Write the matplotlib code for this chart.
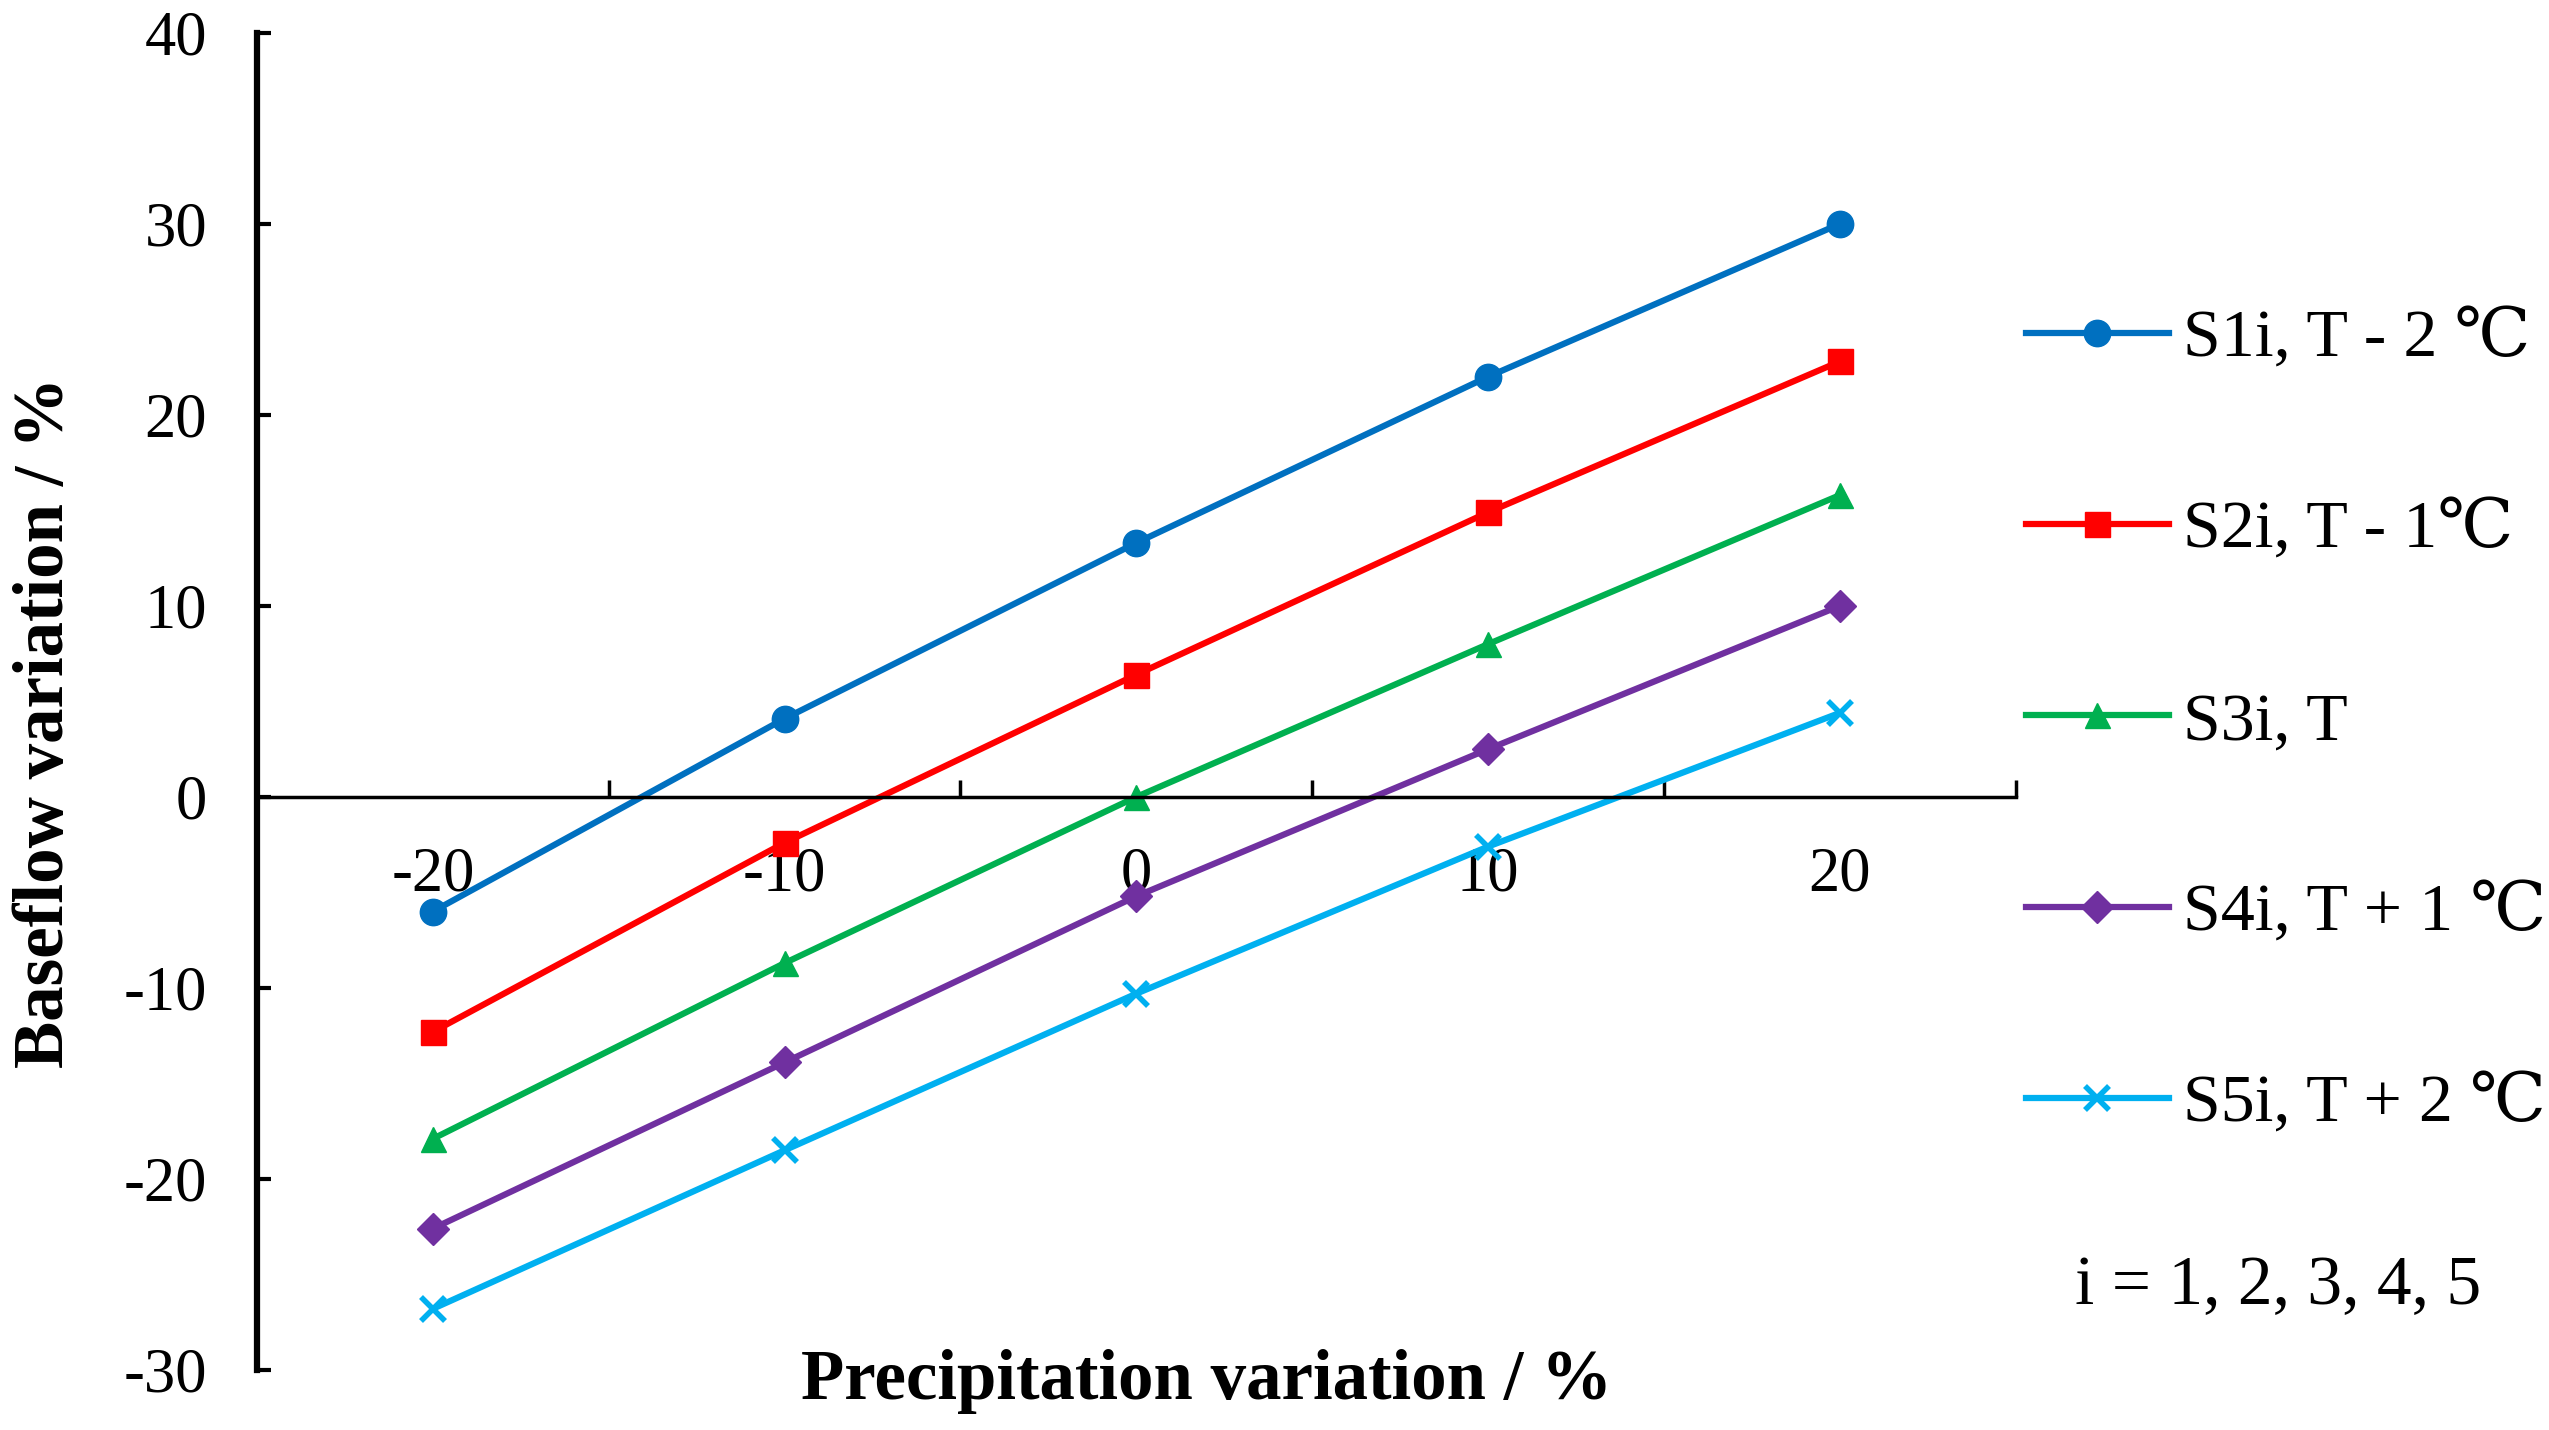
import matplotlib
matplotlib.use("Agg")
import matplotlib.pyplot as plt

# data
precip = [-20, -10, 0, 10, 20]
s1 = [-6.0, 4.1, 13.3, 22.0, 30.0]
s2 = [-12.3, -2.4, 6.4, 14.9, 22.8]
s3 = [-17.9, -8.7, 0.0, 8.0, 15.8]
s4 = [-22.6, -13.9, -5.2, 2.5, 10.0]
s5 = [-26.8, -18.5, -10.3, -2.6, 4.4]
labels = ["S1i, T - 2 \u2103", "S2i, T - 1\u2103", "S3i, T",
          "S4i, T + 1 \u2103", "S5i, T + 2 \u2103"]
colors = ["#0070C0", "#FF0000", "#00B050", "#7030A0", "#00B0F0"]
markers = ["o", "s", "^", "D", "x"]
series = [s1, s2, s3, s4, s5]

plt.rcParams["font.family"] = ["Liberation Serif", "DejaVu Serif"]
plt.rcParams["axes.unicode_minus"] = False

fig = plt.figure(figsize=(25.49, 14.30), dpi=100)
ax = fig.add_axes([0.1008, 0.042, 0.690, 0.935])

msizes = {"o": 19, "s": 18, "^": 18, "D": 16, "x": 17}
for y, lab, c, m in zip(series, labels, colors, markers):
    ax.plot(precip, y, color=c, marker=m, markersize=msizes[m], lw=4.5,
            markeredgewidth=4 if m == "x" else 1, label=lab)

ax.set_xlim(-25, 25)
ax.set_ylim(-30, 40)
ax.set_yticks(range(-30, 41, 10))
ax.set_xticks(precip)
ax.set_xticks([-15, -5, 5, 15, 25], minor=True)

for side in ("top", "right"):
    ax.spines[side].set_visible(False)
ax.spines["bottom"].set_position(("data", 0))
ax.spines["bottom"].set_linewidth(2.5)
ax.spines["left"].set_linewidth(4.5)

ax.tick_params(axis="y", direction="in", length=10, width=3, pad=36, labelsize=45)
ax.tick_params(axis="x", which="major", length=0, pad=36, labelsize=45)
ax.tick_params(axis="x", which="minor", direction="in", length=12, width=2.5)

ax.set_xlabel("Precipitation variation / %", fontsize=51, fontweight="bold", va="center")
ax.xaxis.set_label_coords(0.54, -0.009)
ax.set_ylabel("Baseflow variation / %", fontsize=51, fontweight="bold", va="center")
ax.yaxis.set_label_coords(-0.12, 0.484)

ax.legend(loc="upper left", bbox_to_anchor=(2026 / 2549, 1 - 309 / 1430),
          bbox_transform=fig.transFigure, frameon=False, fontsize=49,
          handlelength=2.1, handletextpad=0.2, labelspacing=1.905,
          borderpad=0, borderaxespad=0)

fig.text(2278 / 2549, 1 - 1287 / 1430, "i = 1, 2, 3, 4, 5", fontsize=50,
         ha="center", va="center")

fig.savefig("out.png", dpi=100)
